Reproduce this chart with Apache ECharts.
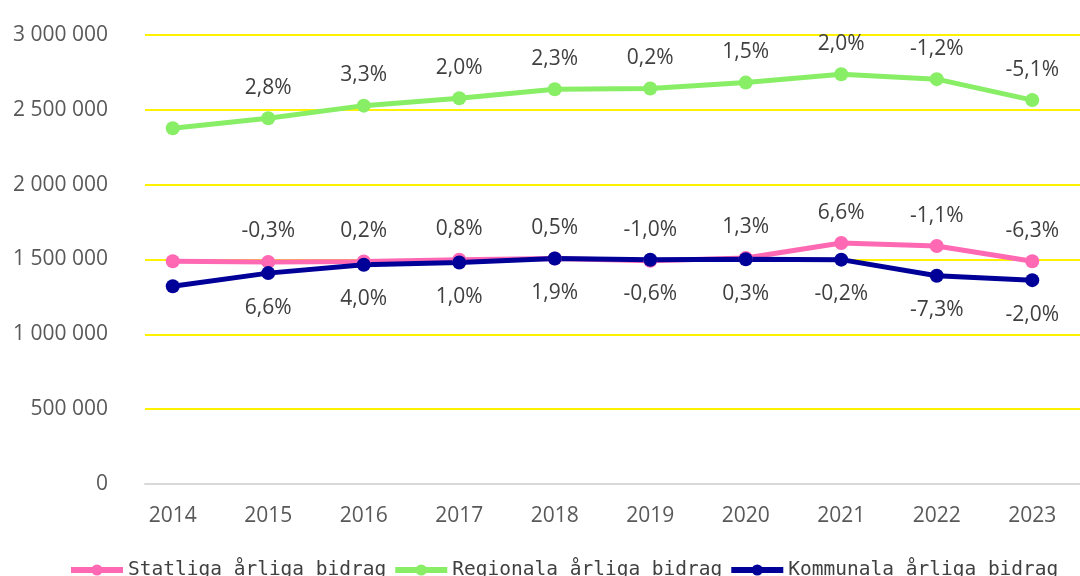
<!DOCTYPE html>
<html>
<head>
<meta charset="utf-8">
<script src="https://cdn.jsdelivr.net/npm/echarts@6/dist/echarts.min.js"></script>
<style>
html,body{margin:0;padding:0;background:#fff;}
#chart{width:1080px;height:576px;}
</style>
</head>
<body>
<div id="chart"></div>
<script>
const years = ['2014','2015','2016','2017','2018','2019','2020','2021','2022','2023'];
const statliga = [1488000,1484000,1487000,1499000,1506000,1491000,1510000,1610000,1590000,1488000];
const regionala = [2377000,2444000,2528000,2577000,2638000,2643000,2682000,2738000,2705000,2565000];
const kommunala = [1321000,1409000,1465000,1480000,1507000,1498000,1502000,1499000,1391000,1362000];
const statligaLabels = ['', '-0,3%', '0,2%', '0,8%', '0,5%', '-1,0%', '1,3%', '6,6%', '-1,1%', '-6,3%'];
const regionalaLabels = ['', '2,8%', '3,3%', '2,0%', '2,3%', '0,2%', '1,5%', '2,0%', '-1,2%', '-5,1%'];
const kommunalaLabels = ['', '6,6%', '4,0%', '1,0%', '1,9%', '-0,6%', '0,3%', '-0,2%', '-7,3%', '-2,0%'];
const yTicks = [0, 500000, 1000000, 1500000, 2000000, 2500000, 3000000];

const FONT = 'Open Sans';
const fmt = v => String(v).replace(/\B(?=(\d{3})+(?!\d))/g, ' ');

function mk(name, data, labels, color, pos, dist) {
  return {
    name: name,
    type: 'line',
    xAxisIndex: 1,
    yAxisIndex: 1,
    data: data,
    symbol: 'circle',
    symbolSize: 14,
    lineStyle: {width: 5, color: color},
    itemStyle: {color: color},
    label: {
      show: true,
      position: pos,
      distance: dist,
      fontFamily: FONT,
      fontSize: 21,
      color: '#404040',
      formatter: p => labels[p.dataIndex]
    },
    z: 3
  };
}

const chart = echarts.init(document.getElementById('chart'), null, {renderer: 'canvas'});
chart.setOption({
  animation: false,
  backgroundColor: '#ffffff',
  grid: [
    {left: 145, right: 0, top: 35, height: 449},
    {left: 125, right: 0, top: 35, height: 449}
  ],
  xAxis: [
    {gridIndex: 0, type: 'category', data: years, axisLine: {show: true, lineStyle: {color: '#d9d9d9', width: 2}},
     axisTick: {show: false}, axisLabel: {show: false}, splitLine: {show: false}},
    {gridIndex: 1, type: 'category', data: years, boundaryGap: true, axisLine: {show: false},
     axisTick: {show: false}, splitLine: {show: false},
     axisLabel: {fontFamily: FONT, fontSize: 21, color: '#595959', margin: 22}}
  ],
  yAxis: [
    {gridIndex: 0, type: 'value', min: yTicks[0], max: yTicks[yTicks.length-1], interval: yTicks[1]-yTicks[0],
     axisLine: {show: false}, axisTick: {show: false},
     axisLabel: {fontFamily: FONT, fontSize: 21, color: '#595959', margin: 37, formatter: fmt},
     splitLine: {show: true, lineStyle: {color: ['#d9d9d9','#FFF200','#FFF200','#FFF200','#FFF200','#FFF200','#FFF200'], width: 2}}},
    {gridIndex: 1, type: 'value', min: yTicks[0], max: yTicks[yTicks.length-1], interval: yTicks[1]-yTicks[0],
     show: false, splitLine: {show: false}}
  ],
  legend: {
    left: 63,
    top: 555,
    itemWidth: 52,
    itemHeight: 14,
    itemGap: 6,
    lineStyle: {width: 6},
    textStyle: {fontFamily: 'DejaVu Sans Mono', fontSize: 19.5, color: '#404040'},
    data: ['Statliga årliga bidrag', 'Regionala årliga bidrag', 'Kommunala årliga bidrag']
  },
  series: [
    mk('Statliga årliga bidrag', statliga, statligaLabels, '#FF69B4', 'top', 13),
    mk('Regionala årliga bidrag', regionala, regionalaLabels, '#88EE66', 'top', 13),
    mk('Kommunala årliga bidrag', kommunala, kommunalaLabels, '#000099', 'bottom', 17)
  ]
});
</script>
</body>
</html>
